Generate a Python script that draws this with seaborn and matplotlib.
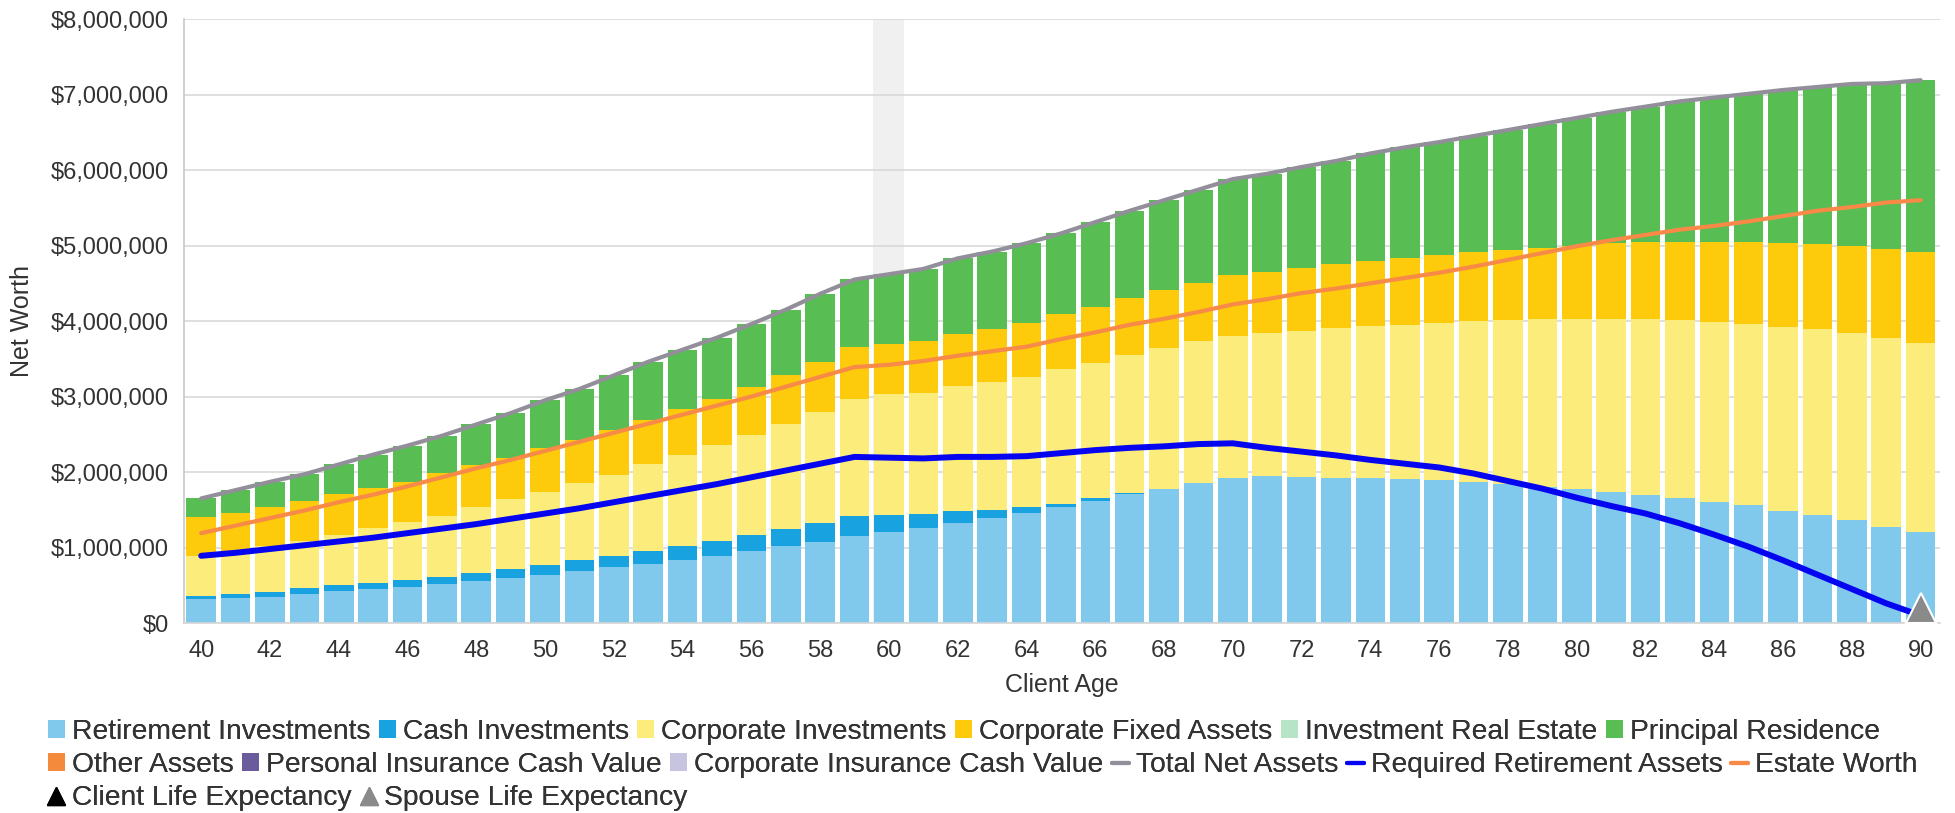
import numpy as np
import pandas as pd
import matplotlib
matplotlib.use('Agg')
import matplotlib.pyplot as plt
import matplotlib.transforms as mtransforms
from matplotlib.lines import Line2D
from matplotlib.patches import Patch
from matplotlib.ticker import FuncFormatter
import seaborn as sns

# ---- data (values in $ thousands) ----
ages = list(range(40, 91))

retirement_inv = [320, 330, 350, 390, 420, 450, 480, 510, 550, 590,
                  640, 690, 740, 780, 840, 890, 950, 1020, 1070, 1150,
                  1200, 1260, 1320, 1390, 1460, 1540, 1620, 1710, 1780, 1850,
                  1920, 1950, 1940, 1920, 1920, 1910, 1890, 1870, 1840, 1800,
                  1770, 1740, 1690, 1650, 1600, 1560, 1490, 1430, 1360, 1270, 1210]
cash_inv = [40, 50, 60, 70, 80, 80, 90, 100, 110, 120,
            130, 140, 150, 170, 180, 190, 210, 220, 250, 270,
            230, 180, 170, 110, 70, 40, 30, 10, 0, 0,
            0, 0, 0, 0, 0, 0, 0, 0, 0, 0,
            0, 0, 0, 0, 0, 0, 0, 0, 0, 0, 0]
corporate_inv = [530, 550, 610, 620, 670, 730, 770, 810, 870, 930,
                 970, 1020, 1070, 1150, 1200, 1280, 1330, 1400, 1480, 1550,
                 1600, 1610, 1650, 1690, 1730, 1780, 1800, 1830, 1860, 1890,
                 1880, 1890, 1930, 1990, 2020, 2040, 2080, 2130, 2180, 2230,
                 2260, 2290, 2340, 2370, 2390, 2400, 2430, 2460, 2480, 2500, 2500]
corporate_fixed = [510, 530, 520, 540, 540, 530, 530, 570, 560, 550,
                   580, 580, 600, 590, 610, 610, 630, 650, 660, 680,
                   660, 690, 690, 700, 710, 730, 740, 750, 770, 760,
                   810, 810, 830, 850, 860, 890, 910, 910, 920, 940,
                   970, 1000, 1010, 1020, 1050, 1080, 1110, 1130, 1150, 1180, 1200]
principal_res = [250, 300, 330, 350, 390, 440, 480, 490, 540, 590,
                 630, 670, 720, 770, 790, 810, 840, 860, 900, 900,
                 930, 950, 1000, 1030, 1060, 1070, 1120, 1160, 1190, 1240,
                 1270, 1300, 1340, 1360, 1420, 1460, 1490, 1540, 1590, 1640,
                 1690, 1740, 1800, 1870, 1920, 1970, 2030, 2080, 2150, 2200, 2280]
required_retirement = [890, 930, 980, 1030, 1080, 1130, 1190, 1250, 1310, 1380,
                       1450, 1520, 1600, 1680, 1760, 1840, 1930, 2020, 2110, 2200,
                       2190, 2180, 2200, 2200, 2210, 2250, 2290, 2320, 2340, 2370,
                       2380, 2320, 2270, 2220, 2160, 2110, 2060, 1980, 1880, 1780,
                       1660, 1550, 1450, 1320, 1170, 1010, 830, 640, 450, 260, 100]
estate_worth = [1190, 1290, 1390, 1490, 1600, 1700, 1810, 1930, 2050, 2160,
                2280, 2400, 2520, 2640, 2760, 2880, 3000, 3130, 3260, 3390,
                3420, 3470, 3540, 3600, 3660, 3760, 3850, 3950, 4030, 4120,
                4220, 4290, 4370, 4430, 4500, 4570, 4640, 4720, 4810, 4900,
                4990, 5070, 5140, 5210, 5260, 5320, 5390, 5460, 5510, 5570, 5600]
spouse_life_expectancy = 90
highlight_age = 60

colors = {
    'Retirement Investments': '#80c8ec',
    'Cash Investments': '#18a2e0',
    'Corporate Investments': '#fcec7c',
    'Corporate Fixed Assets': '#fdca0c',
    'Investment Real Estate': '#b7e3c6',
    'Principal Residence': '#58bd52',
    'Other Assets': '#f48a3c',
    'Personal Insurance Cash Value': '#6a5b9c',
    'Corporate Insurance Cash Value': '#c6c4de',
    'Total Net Assets': '#928f9a',
    'Required Retirement Assets': '#0505f0',
    'Estate Worth': '#f88a48',
}

df = pd.DataFrame({
    'age': ages,
    'Retirement Investments': retirement_inv,
    'Cash Investments': cash_inv,
    'Corporate Investments': corporate_inv,
    'Corporate Fixed Assets': corporate_fixed,
    'Principal Residence': principal_res,
})
stack = ['Retirement Investments', 'Cash Investments', 'Corporate Investments',
         'Corporate Fixed Assets', 'Principal Residence']
cum = df[stack].cumsum(axis=1) * 1000
total_net = cum['Principal Residence']

sns.set_style('white')
plt.rcParams['font.family'] = ['Liberation Sans', 'DejaVu Sans']
text_col = '#333333'

fig = plt.figure(figsize=(19.55, 8.13), dpi=100)
ax = fig.add_axes([0.0941, 0.2337, 0.898, 0.7429])

# hover highlight column
ax.axvspan(highlight_age - 0.45, highlight_age + 0.45, color='#f0f0f0', zorder=0, lw=0)

# stacked bars: draw cumulative totals from the top layer down
for name in reversed(stack):
    sns.barplot(x=df['age'], y=cum[name], color=colors[name], native_scale=True,
                orient='x', width=0.86, saturation=1, errorbar=None,
                linewidth=0, ax=ax, zorder=2)

sns.lineplot(x=df['age'], y=total_net, color=colors['Total Net Assets'], lw=3, ax=ax, zorder=4)
sns.lineplot(x=df['age'], y=np.array(estate_worth) * 1000, color=colors['Estate Worth'],
             lw=3, ax=ax, zorder=5)
sns.lineplot(x=df['age'], y=np.array(required_retirement) * 1000,
             color=colors['Required Retirement Assets'], lw=4.3, ax=ax, zorder=6)

tri_tf = mtransforms.offset_copy(ax.transData, fig=fig, x=0, y=11, units='points')
ax.plot([spouse_life_expectancy], [0], marker='^', ms=22, color='#8a8a8a',
        mec='white', mew=1.5, transform=tri_tf, clip_on=False, zorder=7)

# axes styling
ax.set_xlim(39.52, 90.55)
ax.set_ylim(0, 8e6)
ax.set_yticks(np.arange(0, 8.01e6, 1e6))
ax.yaxis.set_major_formatter(FuncFormatter(lambda v, p: '${:,.0f}'.format(v)))
ax.set_xticks(np.arange(40, 91, 2))
ax.set_xticks(np.arange(39.5, 90, 2), minor=True)
ax.tick_params(axis='x', which='major', length=0, pad=12, labelsize=17, labelcolor=text_col)
ax.tick_params(axis='x', which='minor', length=7, width=1.2, color='#cccccc')
ax.tick_params(axis='y', which='major', length=5, width=1.2, color='#d6d6d6',
               pad=6, labelsize=17, labelcolor=text_col)
ax.grid(axis='y', color='#d9d9d9', lw=1.2, zorder=0)
ax.set_axisbelow(True)
for s in ['top', 'right']:
    ax.spines[s].set_visible(False)
ax.spines['left'].set_color('#c8c8c8')
ax.spines['left'].set_linewidth(1.2)
ax.spines['bottom'].set_color('#d6d6d6')
ax.spines['bottom'].set_linewidth(1.2)
ax.set_xlabel('Client Age', fontsize=18, color=text_col, labelpad=8)
ax.set_ylabel('Net Worth', fontsize=18, color=text_col, labelpad=12)

# legend rows (flow layout imitated with one legend per row)
def sq(name):
    return Patch(facecolor=colors[name], edgecolor='none', label=name)

def ln(name):
    return Line2D([], [], color=colors[name], lw=3, label=name)

rows = [
    [sq('Retirement Investments'), sq('Cash Investments'), sq('Corporate Investments'),
     sq('Corporate Fixed Assets'), sq('Investment Real Estate'), sq('Principal Residence')],
    [sq('Other Assets'), sq('Personal Insurance Cash Value'), sq('Corporate Insurance Cash Value'),
     ln('Total Net Assets'), ln('Required Retirement Assets'), ln('Estate Worth')],
    [Line2D([], [], marker='^', ls='None', color='black', ms=13, label='Client Life Expectancy'),
     Line2D([], [], marker='^', ls='None', color='#8a8a8a', ms=13, label='Spouse Life Expectancy')],
]
row_y = [1 - 732 / 813, 1 - 765 / 813, 1 - 798 / 813]
for handles, y in zip(rows, row_y):
    leg = fig.legend(handles=handles, loc='center left', bbox_to_anchor=(48 / 1955, y),
                     ncol=len(handles), frameon=False, fontsize=20.3, handlelength=0.6,
                     handleheight=0.6, handletextpad=0.25, columnspacing=0.3,
                     borderpad=0, borderaxespad=0)
    for t in leg.get_texts():
        t.set_color(text_col)
    fig.add_artist(leg)

fig.savefig('out.png', dpi=100)
